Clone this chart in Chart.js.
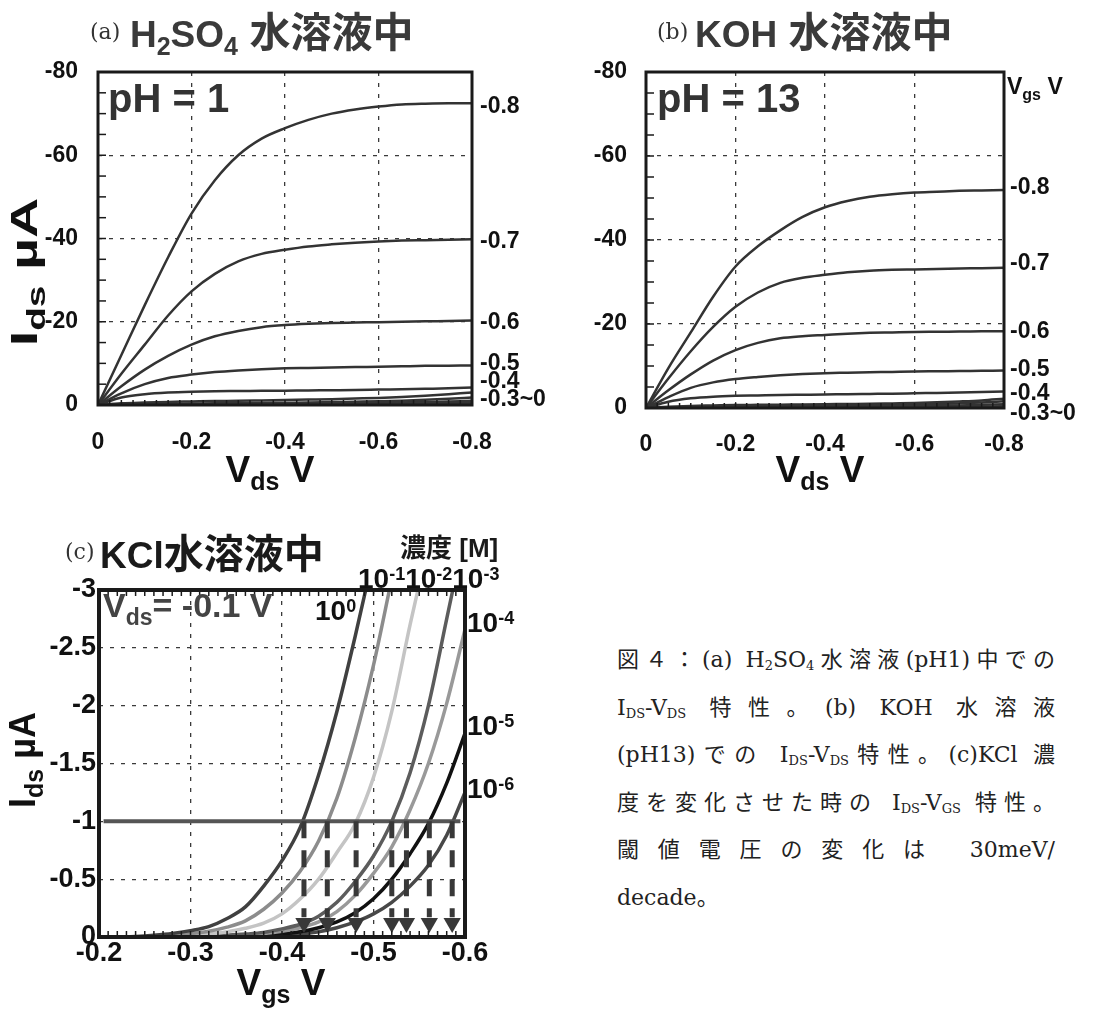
<!DOCTYPE html>
<html lang="ja">
<head>
<meta charset="utf-8">
<title>図4 IDS-VDS / IDS-VGS 特性</title>
<script src="https://cdn.jsdelivr.net/npm/chart.js@4.4.1/dist/chart.umd.min.js"></script>
<style>
body { margin: 0; background: #fff; }
#page { position: relative; width: 1110px; height: 1030px; overflow: hidden; background: #fff; }
#page canvas { position: absolute; }
#cap { position: absolute; left: 617px; top: 636px; width: 438px; font-size: 22px; font-family: "DejaVu Serif", "Noto Sans CJK JP", serif; color: #222; }
#cap div { height: 47.6px; line-height: 47.6px; text-align: justify; text-align-last: justify; white-space: nowrap; }
#cap div.last { text-align-last: left; }
#cap sub { font-size: 13px; vertical-align: -3px; line-height: 0; }
</style>
</head>
<body>
<div id="page">
  <canvas id="chartA" width="560" height="490" style="left:0;top:0"></canvas>
  <canvas id="chartB" width="550" height="490" style="left:560px;top:0"></canvas>
  <canvas id="chartC" width="560" height="540" style="left:0;top:490px"></canvas>
  <div id="cap">
    <div>図４：(a) H<sub>2</sub>SO<sub>4</sub>水溶液(pH1)中での</div>
    <div>I<sub>DS</sub>-V<sub>DS</sub> 特性。(b) KOH 水溶液</div>
    <div>(pH13)での I<sub>DS</sub>-V<sub>DS</sub>特性。(c)KCl 濃</div>
    <div>度を変化させた時の I<sub>DS</sub>-V<sub>GS</sub> 特性。</div>
    <div>閾値電圧の変化は 30meV/</div>
    <div class="last">decade。</div>
  </div>
</div>
<script>
// ---- データ ----
// (a)(b) 横軸 Vds [V]
const vds = [0, -0.05, -0.1, -0.15, -0.2, -0.25, -0.3, -0.35, -0.4, -0.45, -0.5, -0.55, -0.6, -0.65, -0.7, -0.75, -0.8];

// (a) H2SO4 pH1, Ids [uA]
const idsA08 = [0, -12, -24, -35.5, -46, -54, -60, -64, -66.5, -68.5, -70, -71, -71.7, -72.2, -72.4, -72.5, -72.5];
const idsA07 = [0, -7.5, -14.5, -21.5, -27.3, -31.5, -34.5, -36.3, -37.3, -38.1, -38.6, -39, -39.3, -39.5, -39.6, -39.7, -39.8];
const idsA06 = [0, -4.5, -8.5, -11.8, -14.5, -16.5, -17.8, -18.7, -19.2, -19.5, -19.7, -19.8, -19.9, -20, -20.1, -20.2, -20.3];
const idsA05 = [0, -2.8, -5, -6.5, -7.3, -7.9, -8.3, -8.6, -8.8, -8.9, -9, -9.1, -9.2, -9.3, -9.4, -9.45, -9.5];
const idsA04 = [0, -1.8, -2.6, -3.0, -3.2, -3.3, -3.35, -3.4, -3.45, -3.5, -3.55, -3.6, -3.7, -3.8, -3.9, -4.0, -4.2];
const idsA03 = [0, -0.4, -0.6, -0.75, -0.85, -0.95, -1.0, -1.1, -1.2, -1.3, -1.4, -1.55, -1.7, -1.9, -2.2, -2.6, -3.0];
const idsA02 = [0, -0.15, -0.25, -0.3, -0.35, -0.4, -0.45, -0.5, -0.55, -0.6, -0.7, -0.8, -0.9, -1.05, -1.25, -1.5, -1.8];
const idsA01 = [0, -0.05, -0.1, -0.12, -0.15, -0.17, -0.2, -0.22, -0.25, -0.3, -0.35, -0.4, -0.5, -0.6, -0.7, -0.85, -1.0];
const idsA00 = [0, 0, -0.05, -0.05, -0.07, -0.08, -0.1, -0.11, -0.13, -0.15, -0.17, -0.2, -0.25, -0.3, -0.35, -0.42, -0.5];

// (b) KOH pH13, Ids [uA]
const idsB08 = [0, -9.5, -18, -26.5, -33.7, -38.5, -42.3, -45.5, -47.8, -49.3, -50.3, -50.9, -51.3, -51.5, -51.7, -51.8, -51.9];
const idsB07 = [0, -7, -13.5, -19.3, -24.1, -27.5, -29.8, -31, -31.7, -32.3, -32.7, -32.9, -33, -33.1, -33.2, -33.3, -33.4];
const idsB06 = [0, -4.2, -8, -11.3, -13.8, -15.5, -16.6, -17.1, -17.4, -17.7, -17.9, -18, -18.1, -18.15, -18.2, -18.25, -18.3];
const idsB05 = [0, -2.6, -4.8, -6.1, -6.9, -7.4, -7.8, -8.1, -8.3, -8.4, -8.5, -8.6, -8.7, -8.75, -8.8, -8.85, -8.9];
const idsB04 = [0, -1.5, -2.3, -2.7, -2.9, -3.0, -3.1, -3.15, -3.2, -3.3, -3.35, -3.4, -3.5, -3.6, -3.7, -3.8, -3.9];
const idsB03 = [0, -0.3, -0.5, -0.6, -0.7, -0.75, -0.8, -0.85, -0.9, -0.95, -1.0, -1.1, -1.2, -1.35, -1.55, -1.8, -2.2];
const idsB02 = [0, -0.1, -0.2, -0.25, -0.3, -0.35, -0.4, -0.45, -0.5, -0.55, -0.6, -0.7, -0.8, -0.95, -1.1, -1.3, -1.6];
const idsB01 = [0, -0.05, -0.08, -0.1, -0.12, -0.15, -0.17, -0.2, -0.22, -0.25, -0.3, -0.35, -0.4, -0.5, -0.6, -0.75, -0.9];
const idsB00 = [0, 0, -0.03, -0.04, -0.05, -0.06, -0.07, -0.08, -0.1, -0.12, -0.14, -0.16, -0.2, -0.24, -0.28, -0.34, -0.4];

// 曲線ラベル Vgs [V]
const vgsLabels = ['-0.8', '-0.7', '-0.6', '-0.5', '-0.4', '-0.3~0'];

// (c) KCl, Vds = -0.1 V, 横軸 Vgs [V]
const vgs = [-0.20, -0.22, -0.24, -0.26, -0.28, -0.30, -0.32, -0.34, -0.36, -0.38, -0.40, -0.42, -0.44, -0.46, -0.48, -0.50, -0.52, -0.54, -0.56, -0.58, -0.60];
const idsC0 = [0, 0, -0.005, -0.015, -0.03, -0.055, -0.09, -0.16, -0.26, -0.44, -0.66, -0.95, -1.4, -1.95, -2.6, -3.3, null, null, null, null, null];
const idsC1 = [0, 0, 0, -0.005, -0.015, -0.03, -0.05, -0.085, -0.14, -0.24, -0.38, -0.57, -0.83, -1.2, -1.72, -2.35, -3.1, null, null, null, null];
const idsC2 = [0, 0, 0, 0, -0.005, -0.012, -0.025, -0.045, -0.075, -0.12, -0.2, -0.33, -0.5, -0.73, -0.98, -1.38, -1.95, -2.7, -3.4, null, null];
const idsC3 = [0, 0, 0, 0, 0, -0.003, -0.008, -0.015, -0.025, -0.04, -0.07, -0.11, -0.18, -0.3, -0.48, -0.7, -1.0, -1.42, -2.0, -2.75, -3.5];
const idsC4 = [0, 0, 0, 0, 0, 0, -0.005, -0.01, -0.018, -0.03, -0.05, -0.08, -0.13, -0.22, -0.36, -0.55, -0.78, -1.1, -1.5, -2.02, -2.66];
const idsC5 = [0, 0, 0, 0, 0, 0, 0, 0, -0.005, -0.012, -0.025, -0.045, -0.08, -0.13, -0.21, -0.33, -0.5, -0.72, -0.98, -1.33, -1.76];
const idsC6 = [0, 0, 0, 0, 0, 0, 0, 0, 0, -0.005, -0.012, -0.025, -0.045, -0.08, -0.13, -0.2, -0.3, -0.44, -0.62, -0.88, -1.25];

// しきい値 (Ids = -1 uA での Vgs)
const thresholds = [-0.424, -0.4495, -0.481, -0.520, -0.536, -0.561, -0.586];
const refVgs = [-0.205, -0.595];
const refIds = [-1, -1];

// ---- 描画の補助 ----
const SANS = '"Liberation Sans", Arial, "Noto Sans CJK JP", sans-serif';
const SERIF = '"DejaVu Serif", "Noto Sans CJK JP", serif';
const B = s => 'bold ' + s + 'px ' + SANS;

function curve(xs, ys, color, width) {
    return {
        data: xs.map((x, i) => ({ x: x, y: ys[i] })),
        borderColor: color, borderWidth: width,
        showLine: true, pointRadius: 0, fill: false,
        cubicInterpolationMode: 'monotone'
    };
}

// 添字付きの文字列
function rich(ctx, x, y, parts, align, color) {
    let w = 0;
    parts.forEach(p => { ctx.font = p[1]; w += ctx.measureText(p[0]).width; });
    let cx = align === 'center' ? x - w / 2 : (align === 'right' ? x - w : x);
    ctx.fillStyle = color || '#111';
    ctx.textAlign = 'left';
    ctx.textBaseline = 'alphabetic';
    parts.forEach(p => {
        ctx.font = p[1];
        ctx.fillText(p[0], cx, y + (p[2] || 0));
        cx += ctx.measureText(p[0]).width;
    });
}

function yTitle(ctx, x, y, parts, sx) {
    ctx.save();
    ctx.translate(x, y);
    ctx.rotate(-Math.PI / 2);
    ctx.scale(sx, 1);
    rich(ctx, 0, 0, parts, 'center', '#111');
    ctx.restore();
}

// 枠と小目盛り
function frame(chart, lw, minors) {
    const ctx = chart.ctx, a = chart.chartArea;
    ctx.save();
    ctx.strokeStyle = '#1a1a1a';
    ctx.lineWidth = 1.5;
    minors.forEach(m => {
        const s = chart.scales[m.axis];
        for (let i = 0; i <= m.n; i++) {
            const p = s.getPixelForValue(m.from + i * m.step);
            ctx.beginPath();
            if (m.side === 'left') { ctx.moveTo(a.left, p); ctx.lineTo(a.left + m.len, p); }
            else if (m.side === 'bottom') { ctx.moveTo(p, a.bottom); ctx.lineTo(p, a.bottom - m.len); }
            else { ctx.moveTo(p, a.top); ctx.lineTo(p, a.top + m.len); }
            ctx.stroke();
        }
    });
    ctx.lineWidth = lw;
    ctx.strokeRect(a.left, a.top, a.right - a.left, a.bottom - a.top);
    ctx.restore();
}

function axis(min, max, step, fmt, size, pad, fit, horiz) {
    return {
        type: 'linear', min: min, max: max, reverse: true,
        ticks: { stepSize: step, callback: fmt, padding: pad, color: '#111',
                 font: { family: SANS, size: size, weight: 'bold' } },
        grid: { color: '#3a3a3a', lineWidth: 1.3, drawTicks: false },
        border: { display: false, dash: [4, 7] },
        afterFit: s => { if (horiz) s.height = fit; else s.width = fit; }
    };
}

function options(x, y, pad) {
    return {
        responsive: false, animation: false,
        layout: { padding: pad },
        plugins: { legend: { display: false }, tooltip: { enabled: false } },
        scales: { x: x, y: y }
    };
}

const fmtV = v => (Math.abs(v) < 1e-9 ? '0' : v.toFixed(1));
const fmtI = v => (Math.abs(v) < 1e-9 ? '0' : String(Math.round(v)));
const fmtIc = v => (Math.abs(v) < 1e-9 ? '0' : String(Math.round(v * 10) / 10));

// ---- (a) H2SO4 ----
const seriesA = [idsA08, idsA07, idsA06, idsA05, idsA04, idsA03, idsA02, idsA01, idsA00];
new Chart(document.getElementById('chartA'), {
    type: 'scatter',
    data: { datasets: seriesA.map(s => curve(vds, s, '#333', 2.5)) },
    options: options(axis(-0.8, 0, 0.2, fmtV, 23, 24, 85, true),
                     axis(-80, 0, 20, fmtI, 23, 20, 98, false),
                     { top: 72, right: 88, left: 0, bottom: 0 }),
    plugins: [{
        id: 'decoA',
        afterDatasetsDraw(chart) {
            frame(chart, 3, [
                { axis: 'y', from: 0, step: -5, n: 16, side: 'left', len: 8 },
                { axis: 'x', from: 0, step: -0.025, n: 32, side: 'bottom', len: 5 }
            ]);
        },
        afterDraw(chart) {
            const ctx = chart.ctx, a = chart.chartArea, y = chart.scales.y;
            rich(ctx, 90, 39, [['(a)', '22px ' + SERIF]], 'left', '#333');
            rich(ctx, 130, 47, [['H', B(37)], ['2', B(25), 8], ['SO', B(37)], ['4', B(25), 8], [' 水溶液中', B(41)]], 'left', '#3a3a3a');
            rich(ctx, 108, 112, [['pH = 1', B(40)]], 'left', '#333');
            const at = [-72, -39.7, -20.2, -10.3, -6.0, -1.7];
            vgsLabels.forEach((t, i) => rich(ctx, a.right + 8, y.getPixelForValue(at[i]) + 8, [[t, B(23)]], 'left', '#111'));
            yTitle(ctx, 37, 272, [['I', B(36)], ['ds', B(25), 8], [' µA', B(36)]], 1.55);
            rich(ctx, 270, 482, [['V', B(37)], ['ds', B(25), 8], [' V', B(37)]], 'center', '#111');
        }
    }]
});

// ---- (b) KOH ----
const seriesB = [idsB08, idsB07, idsB06, idsB05, idsB04, idsB03, idsB02, idsB01, idsB00];
new Chart(document.getElementById('chartB'), {
    type: 'scatter',
    data: { datasets: seriesB.map(s => curve(vds, s, '#333', 2.5)) },
    options: options(axis(-0.8, 0, 0.2, fmtV, 23, 23, 82, true),
                     axis(-80, 0, 20, fmtI, 23, 19, 86, false),
                     { top: 72, right: 106, left: 0, bottom: 0 }),
    plugins: [{
        id: 'decoB',
        afterDatasetsDraw(chart) {
            frame(chart, 3, [
                { axis: 'y', from: 0, step: -5, n: 16, side: 'left', len: 8 },
                { axis: 'x', from: 0, step: -0.025, n: 32, side: 'bottom', len: 5 }
            ]);
        },
        afterDraw(chart) {
            const ctx = chart.ctx, a = chart.chartArea, y = chart.scales.y;
            rich(ctx, 97, 39, [['(b)', '22px ' + SERIF]], 'left', '#333');
            rich(ctx, 135, 47, [['KOH', B(37)], [' 水溶液中', B(41)]], 'left', '#3a3a3a');
            rich(ctx, 97, 112, [['pH = 13', B(40)]], 'left', '#333');
            rich(ctx, a.right + 3, 94, [['V', B(23)], ['gs', B(16), 6], [' V', B(23)]], 'left', '#111');
            const at = [-52.9, -34.8, -18.6, -9.5, -3.8, 1.0];
            vgsLabels.forEach((t, i) => rich(ctx, a.right + 6, y.getPixelForValue(at[i]) + 8, [[t, B(23)]], 'left', '#111'));
            rich(ctx, 260, 482, [['V', B(37)], ['ds', B(25), 8], [' V', B(37)]], 'center', '#111');
        }
    }]
});

// ---- (c) KCl 濃度依存 ----
const seriesC = [idsC0, idsC1, idsC2, idsC3, idsC4, idsC5, idsC6];
const colorsC = ['#404040', '#8c8c8c', '#c4c4c4', '#5c5c5c', '#999999', '#111111', '#484848'];
const dsC = [];
// 矢印 (破線 + 三角)
thresholds.forEach(t => {
    dsC.push({
        data: [{ x: t, y: -1 }, { x: t, y: -0.17 }],
        borderColor: '#383838', borderWidth: 5, borderDash: [17, 12],
        showLine: true, pointRadius: 0
    });
});
dsC.push({
    data: thresholds.map(t => ({ x: t, y: -0.12 })),
    pointStyle: 'triangle', rotation: 180, pointRadius: 10,
    backgroundColor: '#383838', borderWidth: 0, showLine: false
});
dsC.push(curve(refVgs, refIds, '#555', 4));
seriesC.forEach((s, i) => dsC.push(curve(vgs, s, colorsC[i], 3.5)));

new Chart(document.getElementById('chartC'), {
    type: 'scatter',
    data: { datasets: dsC },
    options: options(axis(-0.6, -0.2, 0.1, fmtV, 27, 0, 93, true),
                     axis(-3, 0, 0.5, fmtIc, 27, 3, 99, false),
                     { top: 100, right: 95, left: 0, bottom: 0 }),
    plugins: [{
        id: 'decoC',
        afterDatasetsDraw(chart) {
            frame(chart, 4, [
                { axis: 'x', from: -0.2, step: -0.01, n: 40, side: 'bottom', len: 6 },
                { axis: 'x', from: -0.2, step: -0.01, n: 40, side: 'top', len: 6 }
            ]);
        },
        afterDraw(chart) {
            const ctx = chart.ctx;
            rich(ctx, 65, 69, [['(c)', '22px ' + SERIF]], 'left', '#333');
            rich(ctx, 100, 78, [['KCl', B(37)], ['水溶液中', B(40)]], 'left', '#1a1a1a');
            rich(ctx, 400, 67, [['濃度 [M]', B(26)]], 'left', '#1a1a1a');
            rich(ctx, 358, 98, [['10', B(28)], ['-1', B(18), -8], ['10', B(28)], ['-2', B(18), -8], ['10', B(28)], ['-3', B(18), -8]], 'left', '#111');
            rich(ctx, 315, 130, [['10', B(28)], ['0', B(18), -8]], 'left', '#111');
            rich(ctx, 103, 127, [['V', B(34)], ['ds', B(23), 8], ['= -0.1 V', B(34)]], 'left', '#444');
            rich(ctx, 467, 142, [['10', B(28)], ['-4', B(18), -8]], 'left', '#111');
            rich(ctx, 467, 245, [['10', B(28)], ['-5', B(18), -8]], 'left', '#111');
            rich(ctx, 467, 308, [['10', B(28)], ['-6', B(18), -8]], 'left', '#111');
            yTitle(ctx, 35, 270, [['I', B(36)], ['ds', B(25), 8], [' µA', B(36)]], 1);
            rich(ctx, 281, 505, [['V', B(37)], ['gs', B(25), 8], [' V', B(37)]], 'center', '#111');
        }
    }]
});
</script>
</body>
</html>
